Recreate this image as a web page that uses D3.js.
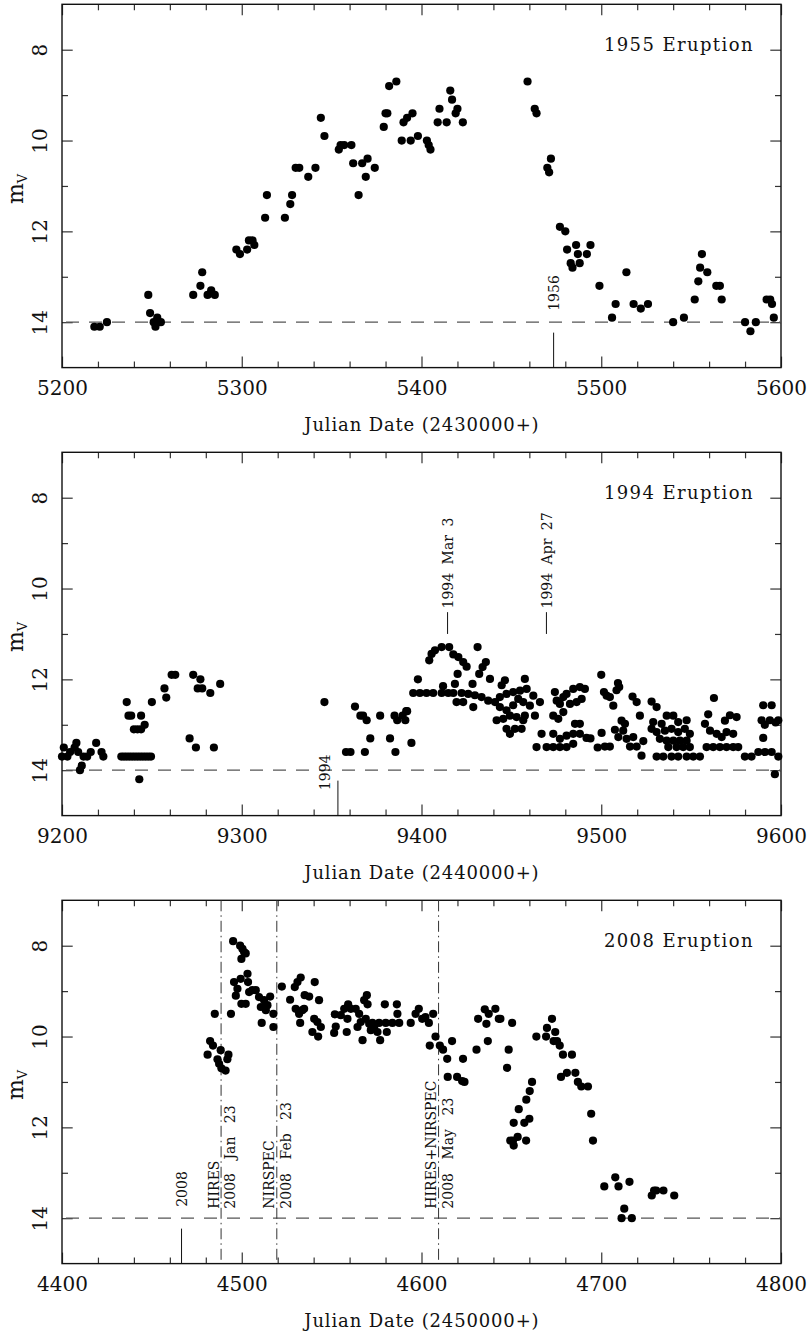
<!DOCTYPE html>
<html><head><meta charset="utf-8">
<script src="https://cdn.jsdelivr.net/npm/d3@7"></script>
<style>
body{margin:0;background:#fff;}
svg{display:block;font-family:"DejaVu Serif",serif;}
</style></head><body>
<svg id="c" width="811" height="1332"></svg>
<script>
// ---------------- DATA ----------------
const panelTitles = ["1955 Eruption", "1994 Eruption", "2008 Eruption"];
const xStarts = [5200, 9200, 4400];
const xAxisTitles = ["Julian Date (2430000+)", "Julian Date (2440000+)", "Julian Date (2450000+)"];
const yMajorTicks = [8, 10, 12, 14];
const yMinorTicks = [9, 11, 13];
const quiescentMag = 14;
const yearStartJD = [5473.5, 9353.5, 4466.5];
const yearStartLabel = ["1956", "1994", "2008"];
const obs1994Epochs = [9414.5, 9469.5];
const obs1994Labels = ["1994 Mar 3", "1994 Apr 27"];
const spec2008Epochs = [4488.5, 4519.5, 4609.5];
const spec2008Inst = ["HIRES", "NIRSPEC", "HIRES+NIRSPEC"];
const spec2008Dates = ["2008 Jan 23", "2008 Feb 23", "2008 May 23"];

const obs1955 = [
[5218,14.1],[5221,14.1],[5225,14.0],[5248,13.4],[5249,13.8],[5251,14.0],[5252,14.1],[5253,13.9],[5255,14.0],
[5273,13.4],[5277,13.2],[5278,12.9],[5281,13.4],[5283,13.3],[5285,13.4],[5297,12.4],[5299,12.5],[5303,12.4],
[5304,12.2],[5306,12.2],[5307,12.3],[5313,11.7],[5314,11.2],[5324,11.7],[5327,11.4],[5328,11.2],[5330,10.6],
[5332,10.6],[5337,10.8],[5341,10.6],[5344,9.5],[5346,9.9],[5354,10.2],[5355,10.1],[5357,10.1],[5361,10.1],
[5362,10.5],[5365,11.2],[5367,10.5],[5369,10.8],[5370,10.4],[5374,10.6],[5379,9.7],[5380,9.4],[5381,9.4],
[5382,8.8],[5386,8.7],[5389,10.0],[5390,9.6],[5392,9.5],[5394,10.0],[5395,9.4],[5398,9.9],[5403,10.0],
[5404,10.1],[5405,10.2],[5409,9.6],[5410,9.3],[5414,9.6],[5416,8.9],[5417,9.1],[5419,9.4],[5420,9.3],
[5423,9.6],[5459,8.7],[5463,9.3],[5464,9.4],[5470,10.6],[5471,10.7],[5472,10.4],[5477,11.9],[5480,12.0],
[5481,12.4],[5483,12.7],[5484,12.8],[5486,12.3],[5487,12.5],[5488,12.7],[5492,12.5],[5494,12.3],[5499,13.2],
[5506,13.9],[5508,13.6],[5514,12.9],[5518,13.6],[5522,13.7],[5526,13.6],[5540,14.0],[5546,13.9],[5552,13.5],
[5554,13.1],[5555,12.8],[5556,12.5],[5559,12.9],[5564,13.2],[5566,13.2],[5567,13.5],[5580,14.0],[5583,14.2],
[5586,14.0],[5592,13.5],[5594,13.5],[5595,13.6],[5596,13.9]
];

const obs1994 = [
[9200,13.7],[9201,13.5],[9203,13.7],[9204.5,13.6],[9207,13.5],[9208,13.4],[9209,13.6],[9210,14.0],[9211,13.9],
[9212,13.7],[9214,13.7],[9216,13.6],[9219,13.4],[9222,13.6],[9223,13.7],
[9233,13.7],[9234.5,13.7],[9236,13.7],[9237.5,13.7],[9239,13.7],[9240.5,13.7],[9242,13.7],[9243.5,13.7],
[9245,13.7],[9246.5,13.7],[9248,13.7],[9249.5,13.7],
[9236,12.5],[9237,12.8],[9238.5,12.8],[9240,13.1],[9242,13.1],[9244,12.8],[9244,13.1],[9246,13.0],[9243,14.2],
[9250,12.5],[9257,12.2],[9258,12.4],[9261,11.9],[9263,11.9],[9271,13.3],[9273,11.9],[9274.5,13.5],[9277,12.0],
[9275.5,12.2],[9278,12.2],[9282.5,12.3],[9284.5,13.5],[9288,12.1],
[9346,12.5],
[9358,13.6],[9360.5,13.6],[9363,12.6],[9366,12.8],[9367.5,12.8],[9368.5,13.6],[9369.5,12.9],[9371.5,13.3],
[9377,12.8],[9382.5,13.3],[9385,12.8],[9385.5,13.6],[9386.5,12.9],[9389.5,12.8],[9391,12.9],[9392,12.7],
[9391.5,12.7],[9394.4,13.4],
[9398,12.0],[9395.4,12.3],[9399.1,12.3],[9402.8,12.3],[9406.5,12.3],[9411.2,12.3],[9414.9,12.3],[9417.7,12.3],
[9412,12.15],[9404.3,11.58],[9405.6,11.44],[9407.5,11.36],[9411.2,11.29],[9415.4,11.29],[9417.7,11.45],
[9420.5,11.51],[9423.2,11.62],[9425.1,11.72],[9420.1,11.88],[9418.6,12.1],
[9431.2,11.29],[9435.8,11.62],[9434,11.73],[9432.1,11.88],[9438.1,11.99],[9428.4,12.1],
[9422.3,12.3],[9426,12.32],[9429.7,12.35],[9433.4,12.39],[9437.1,12.47],[9440.9,12.5],
[9419.5,12.5],[9423.2,12.5],[9428.8,12.61],
[9446.4,12.02],[9444.6,12.13],[9457.5,11.99],
[9443.6,12.39],[9447.3,12.32],[9451,12.28],[9454.8,12.25],[9458.5,12.21],[9462.2,12.36],[9465.9,12.5],
[9443.6,12.61],[9447.3,12.68],[9451,12.57],[9453.8,12.43],[9456.6,12.5],[9460.3,12.58],[9463.1,12.8],
[9441.8,12.9],[9445.5,12.87],[9449.2,12.8],[9452.9,12.83],[9457.5,12.8],
[9447.3,13.09],[9449.2,13.2],[9452,13.09],[9455.7,13.09],[9456.6,12.9],[9466.8,13.2],
[9464,13.49],[9469.6,13.49],[9473.3,13.49],[9477,13.49],[9480.7,13.49],[9484.4,13.42],
[9473.3,13.2],[9477,13.31],[9480.7,13.24],[9484.4,13.2],[9488.1,13.2],
[9474.2,12.28],[9475.2,12.47],[9477,12.54],[9478.9,12.39],[9480.7,12.32],[9484.4,12.21],[9488.1,12.17],
[9490.9,12.21],[9473.3,12.8],[9476.1,12.87],[9478.9,12.72],[9482.6,12.54],[9486.3,12.5],[9489.1,12.43],
[9485.4,12.98],[9488.1,12.98],[9491.8,13.29],[9494,13.3],[9498,13.5],
[9500,11.9],[9501.5,12.28],[9503,12.36],[9504.8,12.39],[9506.7,12.58],[9508.5,12.24],[9510,12.17],[9509.3,12.08],
[9500.2,13.18],[9502,13.48],[9504.8,13.48],[9507.6,13.11],[9509.5,13.27],[9511.3,12.91],[9512.2,13.13],
[9513.2,12.98],[9514.1,13.31],[9516,13.48],[9517.8,13.27],[9519.7,13.48],[9522.4,13.68],[9523.4,13.36],
[9517.4,12.38],[9519.7,12.5],[9521.5,12.8],[9528,12.49],[9530.8,12.61],
[9528.9,12.94],[9533.6,12.98],[9536.4,12.8],[9540.1,12.8],[9542.8,12.94],[9547.5,12.9],
[9528,13.09],[9530.8,13.16],[9535.4,13.13],[9539.1,13.09],[9542.8,13.16],[9546.5,13.09],[9549.3,13.2],
[9532.6,13.31],[9536.4,13.35],[9540.1,13.35],[9543.8,13.35],[9547.5,13.35],
[9537.3,13.49],[9541.9,13.49],[9545.6,13.49],[9549.3,13.49],
[9530.8,13.7],[9534.5,13.7],[9539.1,13.7],[9542.8,13.7],[9547.5,13.7],[9551.2,13.7],[9554.9,13.7],
[9562.7,12.41],[9559.5,12.77],[9557.7,12.98],[9560.5,13.13],[9564.2,13.2],[9567,13.27],[9569.7,13.16],
[9573.4,13.2],[9575.3,12.83],[9571.6,12.79],[9568.8,12.91],
[9558.6,13.49],[9562.3,13.49],[9566,13.49],[9569.7,13.49],[9573.4,13.49],[9576.2,13.49],
[9579.9,13.7],[9583.6,13.7],[9587.4,13.6],[9591.1,13.6],[9594.8,13.6],[9598.5,13.7],
[9590.1,12.57],[9594.8,12.57],[9589.2,12.9],[9593.8,12.9],[9598.5,12.9],[9591,13.0],[9597,12.95],
[9590.1,13.29],[9596.6,14.09]
];

const obs2008 = [
[4481,10.4],[4482.4,10.1],[4484,10.2],[4485,9.5],[4486.5,10.5],[4487.4,10.6],[4488.3,10.3],[4488.7,10.7],
[4491,10.75],[4492,10.5],[4492.6,10.4],[4494,9.5],[4495.2,7.9],[4495.7,8.8],[4496.7,9.1],[4497.6,8.95],
[4499.1,8.0],[4499.4,8.73],[4499.8,9.28],[4500.4,8.07],[4501.3,8.14],[4502.2,8.17],[4499.8,8.29],[4502.2,9.28],
[4503.2,8.62],[4503.5,8.8],[4504.1,9.02],[4505.9,8.98],[4507.8,8.98],[4509.6,9.13],[4510.6,9.35],[4511.1,9.7],
[4512.4,9.2],[4513.4,9.42],[4514.3,9.31],[4515.8,9.12],[4517.6,9.79],[4517.6,9.5],[4522.3,8.9],[4526.9,9.19],
[4529.5,8.91],[4531,8.8],[4532.8,8.7],[4530,9.39],[4531.9,9.5],[4533.7,9.42],[4534.7,9.39],[4532.5,9.7],
[4535,9.09],[4537.5,9.12],[4540.6,8.8],[4543,9.2],[4540.3,9.61],[4542.1,9.68],[4544,9.79],[4539.3,9.9],
[4542.5,10.0],[4551.8,9.51],[4552.3,9.78],[4551.4,9.92],[4555.1,9.53],[4557,9.39],[4559.2,9.29],[4560.7,9.39],
[4558.8,9.61],[4558.4,9.9],[4563.4,9.39],[4565.3,9.5],[4566.2,9.68],[4564.4,9.79],[4567.2,10.08],[4568.1,9.2],
[4569.6,9.09],[4570,9.29],[4569,9.61],[4570.9,9.72],[4571.8,9.86],[4573.7,9.79],[4575.5,9.9],[4577,10.08],
[4572.7,9.7],[4576.4,9.7],[4580.1,9.7],[4583.8,9.7],[4587.6,9.7],[4579.6,9.29],[4580.7,9.9],[4586.3,9.29],
[4586.6,9.5],[4594,9.7],[4596.7,9.5],[4598.5,9.39],[4600.4,9.61],[4602.2,9.57],[4604.1,9.7],[4606.5,9.5],
[4604.6,10.2],[4607.8,10.0],[4610.2,10.2],[4612,10.29],[4614.3,10.49],[4614.6,10.89],[4617,10.1],[4619.8,10.89],
[4622.6,10.98],[4623.9,11.0],[4623.1,10.49],[4630.6,10.29],[4631.5,9.61],[4635.2,9.4],[4636.1,9.72],[4637.4,9.5],
[4636.9,10.1],[4641.1,9.39],[4643,9.61],[4643.9,9.61],[4650.4,9.7],[4648.5,10.29],[4647.6,10.69],[4649.4,12.29],
[4651.3,12.4],[4650.9,12.29],[4651.3,11.9],[4653.5,12.21],[4654.1,11.6],[4657.2,11.9],[4658.2,12.29],[4658.3,11.39],
[4660.2,11.2],[4660,11.81],[4661.5,11.0],[4663.9,10.0],[4669.3,10.0],[4669.8,9.81],[4672.6,9.61],[4674.4,9.9],
[4673.5,10.1],[4675.4,10.1],[4676.9,10.2],[4678.7,10.4],[4683.7,10.4],[4677.6,10.89],[4680.9,10.8],[4685.6,10.8],
[4687,11.0],[4688.9,11.1],[4692.6,11.1],[4694.4,11.7],[4695.4,12.29],[4701.7,13.3],[4707.8,13.1],[4709.6,13.3],
[4712.8,13.79],[4711.3,14.0],[4715.7,13.2],[4717,14.0],[4728.1,13.5],[4729.4,13.39],[4730.6,13.39],[4734.6,13.39],
[4740.6,13.5]
];

const observations = [obs1955, obs1994, obs2008];

// ---------------- DRAWING ----------------
const svg = d3.select("#c");
const L = 62, R = 781, PH = 363.3;
const tops = [4.3, 452.3, 900.3];
const INK = "#111";

tops.forEach((top, i) => {
  const bot = top + PH;
  const x0 = xStarts[i];
  const x = d3.scaleLinear().domain([x0, x0 + 400]).range([L, R]);
  const y = d3.scaleLinear().domain([7, 15]).range([top, bot]);
  const g = svg.append("g");

  const majorX = d3.range(x0, x0 + 401, 100);
  const minorX = d3.range(x0, x0 + 401, 20).filter(v => (v - x0) % 100 !== 0);

  function style(sel) {
    sel.select(".domain").remove();
    sel.selectAll(".tick line").attr("stroke", "#333").attr("stroke-width", 1.2);
    sel.selectAll("text").attr("fill", INK).attr("font-family", "DejaVu Serif");
  }
  // bottom
  const bMaj = g.append("g").attr("transform", `translate(0,${bot})`)
    .call(d3.axisBottom(x).tickValues(majorX).tickSize(-11).tickFormat(d3.format("d")));
  style(bMaj);
  bMaj.selectAll("text").attr("y", 27.6).attr("dy", 0).attr("font-size", 20);
  g.append("g").attr("transform", `translate(0,${bot})`)
    .call(d3.axisBottom(x).tickValues(minorX).tickSize(-6).tickFormat("")).call(style);
  // top
  g.append("g").attr("transform", `translate(0,${top})`)
    .call(d3.axisTop(x).tickValues(majorX).tickSize(-11).tickFormat("")).call(style);
  g.append("g").attr("transform", `translate(0,${top})`)
    .call(d3.axisTop(x).tickValues(minorX).tickSize(-6).tickFormat("")).call(style);
  // left
  const lMaj = g.append("g").attr("transform", `translate(${L},0)`)
    .call(d3.axisLeft(y).tickValues(yMajorTicks).tickSize(-10.7).tickFormat(d3.format("d")));
  style(lMaj);
  lMaj.selectAll("text").attr("x", 0).attr("y", -15.3).attr("dy", 0)
    .attr("transform", "rotate(-90)").attr("text-anchor", "middle").attr("font-size", 20);
  g.append("g").attr("transform", `translate(${L},0)`)
    .call(d3.axisLeft(y).tickValues(yMinorTicks).tickSize(-6).tickFormat("")).call(style);
  // right
  g.append("g").attr("transform", `translate(${R},0)`)
    .call(d3.axisRight(y).tickValues(yMajorTicks).tickSize(-10.7).tickFormat("")).call(style);
  g.append("g").attr("transform", `translate(${R},0)`)
    .call(d3.axisRight(y).tickValues(yMinorTicks).tickSize(-6).tickFormat("")).call(style);

  // frame
  g.append("rect").attr("x", L).attr("y", top).attr("width", R - L).attr("height", bot - top)
    .attr("fill", "none").attr("stroke", INK).attr("stroke-width", 1.4);

  // quiescent level
  g.append("line").attr("x1", x(x0)).attr("x2", x(x0 + 400))
    .attr("y1", y(quiescentMag)).attr("y2", y(quiescentMag))
    .attr("stroke", "#555").attr("stroke-width", 1.2).attr("stroke-dasharray", "13,10")
    .attr("stroke-dashoffset", -4);

  // year start marker
  const yx = x(yearStartJD[i]);
  g.append("line").attr("x1", yx).attr("x2", yx).attr("y1", y(14.23)).attr("y2", bot)
    .attr("stroke", INK).attr("stroke-width", 1);
  const labX = i === 1 ? yx - 7.5 : yx + 5.3;
  const labMag = i === 1 ? 14.44 : 13.75;
  g.append("text").attr("transform", `translate(${labX},${y(labMag)}) rotate(-90)`)
    .attr("font-size", 14).attr("fill", INK).text(yearStartLabel[i]);

  if (i === 1) {
    obs1994Epochs.forEach((jd, k) => {
      const lx = x(jd);
      g.append("line").attr("x1", lx).attr("x2", lx).attr("y1", y(11.0)).attr("y2", y(10.52))
        .attr("stroke", INK).attr("stroke-width", 1);
      g.append("text").attr("transform", `translate(${lx + 5.5},${y(10.44)}) rotate(-90)`)
        .attr("font-size", 14).attr("fill", INK).attr("word-spacing", 4).text(obs1994Labels[k]);
    });
  }
  if (i === 2) {
    spec2008Epochs.forEach((jd, k) => {
      const lx = x(jd);
      g.append("line").attr("x1", lx).attr("x2", lx).attr("y1", top).attr("y2", bot)
        .attr("stroke", "#333").attr("stroke-width", 1).attr("stroke-dasharray", "11,4,1.5,4");
      g.append("text").attr("transform", `translate(${lx - 2.5},${y(13.79)}) rotate(-90)`)
        .attr("font-size", 14).attr("fill", INK).text(spec2008Inst[k]);
      g.append("text").attr("transform", `translate(${lx + 14},${y(13.79)}) rotate(-90)`)
        .attr("font-size", 14).attr("fill", INK).attr("word-spacing", 9).text(spec2008Dates[k]);
    });
  }

  // points
  g.append("g").selectAll("circle").data(observations[i]).join("circle")
    .attr("cx", d => x(d[0])).attr("cy", d => y(d[1])).attr("r", 4.1).attr("fill", "#000");

  // title
  g.append("text").attr("x", 753.9).attr("y", top + 46.4).attr("text-anchor", "end")
    .attr("font-size", 18).attr("letter-spacing", 1.4).attr("fill", INK).text(panelTitles[i]);

  // x axis title
  g.append("text").attr("x", (L + R) / 2 + 0.4).attr("y", bot + 63).attr("text-anchor", "middle")
    .attr("font-size", 18).attr("letter-spacing", 0.85).attr("fill", INK).text(xAxisTitles[i]);

  // y axis title m_V
  const yt = g.append("text").attr("transform", `translate(23.3,${(top + bot) / 2 + 3}) rotate(-90)`)
    .attr("text-anchor", "middle").attr("fill", INK);
  yt.append("tspan").attr("font-size", 22).text("m");
  yt.append("tspan").attr("font-size", 13).attr("dy", 4).text("V");
});
</script>
</body></html>
